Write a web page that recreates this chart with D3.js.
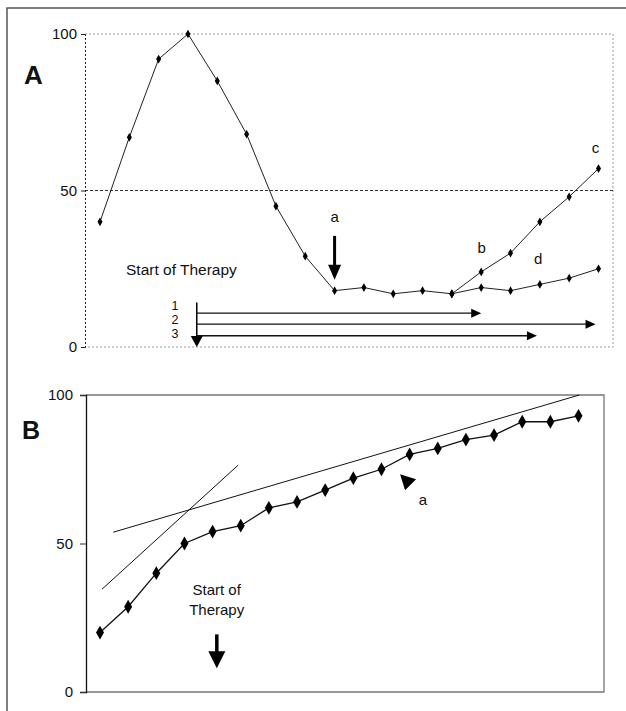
<!DOCTYPE html>
<html>
<head>
<meta charset="utf-8">
<script src="https://cdn.jsdelivr.net/npm/d3@7"></script>
<style>
  body { margin: 0; background: #fff; }
  svg text { font-family: "Liberation Sans", Arial, sans-serif; fill: #111; }
</style>
</head>
<body>
<div id="chart"></div>
<script>
// panel A
var periodsA = d3.range(1, 19);
var mainA = [40, 67, 92, 100, 85, 68, 45, 29, 18, 19, 17, 18, 17];
var branchC = [17, 24, 30, 40, 48, 57];     // periods 13-18
var branchD = [17, 19, 18, 20, 22, 25];     // periods 13-18
var therapyStartA = 4.3;
var therapyBars = [
    { label: "1", level: 10.8, end: 14 },
    { label: "2", level: 7.3, end: 17.9 },
    { label: "3", level: 3.6, end: 15.9 }
];
var labelsA = [
    { t: "b", x: 14.02, y: 32 },
    { t: "c", x: 17.9, y: 64 },
    { t: "d", x: 15.94, y: 28.4 }
];

// panel B
var seriesB = [20, 28.7, 40, 50, 54, 56, 62, 64, 68, 72, 75, 80, 82, 85, 86.5, 91, 91, 93];
var trendB = [
    [[1.07, 34.6], [5.91, 76.4]],
    [[1.47, 53.8], [18.03, 100]]
];
var yTicks = [0, 50, 100];

var W = 626, H = 711;

var svg = d3.select("#chart").append("svg")
    .attr("width", W)
    .attr("height", H);

// outer frame (top + left only)
svg.append("path")
    .attr("d", "M7,711 L7,8 L626,8")
    .attr("fill", "none")
    .attr("stroke", "#555")
    .attr("stroke-width", 1.5);

function diamond(size) {
    return d3.symbol().type(d3.symbolDiamond).size(size)();
}

function downArrow(g, x, y0, y1, shaftW, headW, headH) {
    g.append("line")
        .attr("x1", x).attr("x2", x)
        .attr("y1", y0).attr("y2", y1 - headH + 1)
        .attr("stroke", "#000").attr("stroke-width", shaftW);
    g.append("path")
        .attr("d", `M${x - headW / 2},${y1 - headH} L${x + headW / 2},${y1 - headH} L${x},${y1} Z`)
        .attr("fill", "#000");
}

// ---------------- Panel A ----------------
var xA = d3.scaleLinear().domain([1, 18]).range([100, 598.5]);
var yA = d3.scaleLinear().domain([0, 100]).range([347, 34]);
var gA = svg.append("g");

// plot box
gA.append("path")
    .attr("d", `M${xA.range()[0] - 15},${yA(100)} L613,${yA(100)} L613,${yA(0)} L85,${yA(0)}`)
    .attr("fill", "none")
    .attr("stroke", "#999")
    .attr("stroke-width", 1)
    .attr("stroke-dasharray", "2,2");

gA.append("line")
    .attr("x1", 85).attr("x2", 613)
    .attr("y1", yA(50)).attr("y2", yA(50))
    .attr("stroke", "#333")
    .attr("stroke-dasharray", "3,2");

var axA = gA.append("g")
    .attr("transform", "translate(85,0)")
    .call(d3.axisLeft(yA).tickValues(yTicks).tickSize(4).tickPadding(4));
axA.select(".domain").attr("stroke", "#222").attr("stroke-dasharray", "2,2");
axA.selectAll(".tick line").attr("stroke", "#222");
axA.selectAll(".tick text")
    .style("font-family", "Liberation Sans, Arial, sans-serif")
    .style("font-size", "15px").attr("fill", "#111");

var lineA = d3.line()
    .x(d => xA(d[0]))
    .y(d => yA(d[1]));

var ptsMain = mainA.map((v, i) => [periodsA[i], v]);
var ptsC = branchC.map((v, i) => [periodsA[12 + i], v]);
var ptsD = branchD.map((v, i) => [periodsA[12 + i], v]);

[ptsMain, ptsC, ptsD].forEach(pts => {
    gA.append("path")
        .datum(pts)
        .attr("d", lineA)
        .attr("fill", "none")
        .attr("stroke", "#222")
        .attr("stroke-width", 1);
    gA.selectAll(null)
        .data(pts)
        .enter().append("path")
        .attr("d", diamond(22))
        .attr("transform", d => `translate(${xA(d[0])},${yA(d[1])})`)
        .attr("fill", "#000");
});

gA.append("text")
    .attr("x", 126).attr("y", 275)
    .style("font-size", "15.5px")
    .text("Start of Therapy");

// therapy bars
gA.append("line")
    .attr("x1", xA(therapyStartA)).attr("x2", xA(therapyStartA))
    .attr("y1", yA(14.2)).attr("y2", yA(3))
    .attr("stroke", "#000").attr("stroke-width", 1.5);
gA.append("path")
    .attr("d", `M${xA(therapyStartA) - 6},${yA(3.5)} L${xA(therapyStartA) + 6},${yA(3.5)} L${xA(therapyStartA)},${yA(0)} Z`)
    .attr("fill", "#000");

therapyBars.forEach((b, i) => {
    var y = yA(b.level), x1 = xA(b.end);
    gA.append("line")
        .attr("x1", xA(therapyStartA)).attr("x2", x1 - 8)
        .attr("y1", y).attr("y2", y)
        .attr("stroke", "#111").attr("stroke-width", 1.3);
    gA.append("path")
        .attr("d", `M${x1 - 10},${y - 4.5} L${x1},${y} L${x1 - 10},${y + 4.5} Z`)
        .attr("fill", "#000");
    // stacked numbers, tight spacing
    gA.append("text")
        .attr("x", 175)
        .attr("y", 310 + i * 14)
        .attr("text-anchor", "middle")
        .style("font-size", "12.5px")
        .text(b.label);
});

// marker a
downArrow(gA, xA(9), yA(35.5), yA(21.5), 3, 13, 15);
gA.append("text")
    .attr("x", xA(9)).attr("y", yA(41.9) + 6)
    .attr("text-anchor", "middle")
    .style("font-size", "15px")
    .text("a");

gA.selectAll(".lbl")
    .data(labelsA)
    .enter().append("text")
    .attr("x", d => xA(d.x))
    .attr("y", d => yA(d.y) + 6)
    .attr("text-anchor", "middle")
    .style("font-size", "15px")
    .text(d => d.t);

svg.append("text")
    .attr("x", 24).attr("y", 84)
    .style("font-size", "26px")
    .style("font-weight", "bold")
    .text("A");

// ---------------- Panel B ----------------
var xB = d3.scaleLinear().domain([1, 18]).range([100, 578.5]);
var yB = d3.scaleLinear().domain([0, 100]).range([692, 395]);
var gB = svg.append("g");

gB.append("path")
    .attr("d", `M86,${yB(100)} L604,${yB(100)} L604,${yB(0)} L86,${yB(0)}`)
    .attr("fill", "none")
    .attr("stroke", "#777")
    .attr("stroke-width", 1.3);

var axB = gB.append("g")
    .attr("transform", "translate(86,0)")
    .call(d3.axisLeft(yB).tickValues(yTicks).tickSize(6).tickPadding(7));
axB.select(".domain").attr("stroke", "#111").attr("stroke-width", 1.3);
axB.selectAll(".tick line").attr("stroke", "#333");
axB.selectAll(".tick text")
    .style("font-family", "Liberation Sans, Arial, sans-serif")
    .style("font-size", "15px").attr("fill", "#222");

var lineB = d3.line()
    .x(d => xB(d[0]))
    .y(d => yB(d[1]));

trendB.forEach(seg => {
    gB.append("path")
        .datum(seg)
        .attr("d", lineB)
        .attr("fill", "none")
        .attr("stroke", "#111")
        .attr("stroke-width", 1);
});

var ptsB = seriesB.map((v, i) => [i + 1, v]);
gB.append("path")
    .datum(ptsB)
    .attr("d", lineB)
    .attr("fill", "none")
    .attr("stroke", "#111")
    .attr("stroke-width", 1.3);
gB.selectAll(null)
    .data(ptsB)
    .enter().append("path")
    .attr("d", diamond(55))
    .attr("transform", d => `translate(${xB(d[0])},${yB(d[1])})`)
    .attr("fill", "#000");

gB.append("text")
    .attr("x", 216.7).attr("y", 595)
    .attr("text-anchor", "middle")
    .style("font-size", "15px")
    .text("Start of");
gB.append("text")
    .attr("x", 216.7).attr("y", 615)
    .attr("text-anchor", "middle")
    .style("font-size", "15px")
    .text("Therapy");

downArrow(gB, xB(5.15), yB(19.4), yB(8), 3.5, 17, 17);

// marker a (pointing up-left at the curve)
var tipX = xB(11.66), tipY = yB(73.3);
gB.append("path")
    .attr("d", `M${tipX},${tipY} L${tipX + 16},${tipY + 5} L${tipX + 5},${tipY + 16} Z`)
    .attr("fill", "#000");
gB.append("text")
    .attr("x", xB(12.47)).attr("y", yB(65) + 6)
    .attr("text-anchor", "middle")
    .style("font-size", "15px")
    .text("a");

svg.append("text")
    .attr("x", 22).attr("y", 439)
    .style("font-size", "25px")
    .style("font-weight", "bold")
    .text("B");
</script>
</body>
</html>
